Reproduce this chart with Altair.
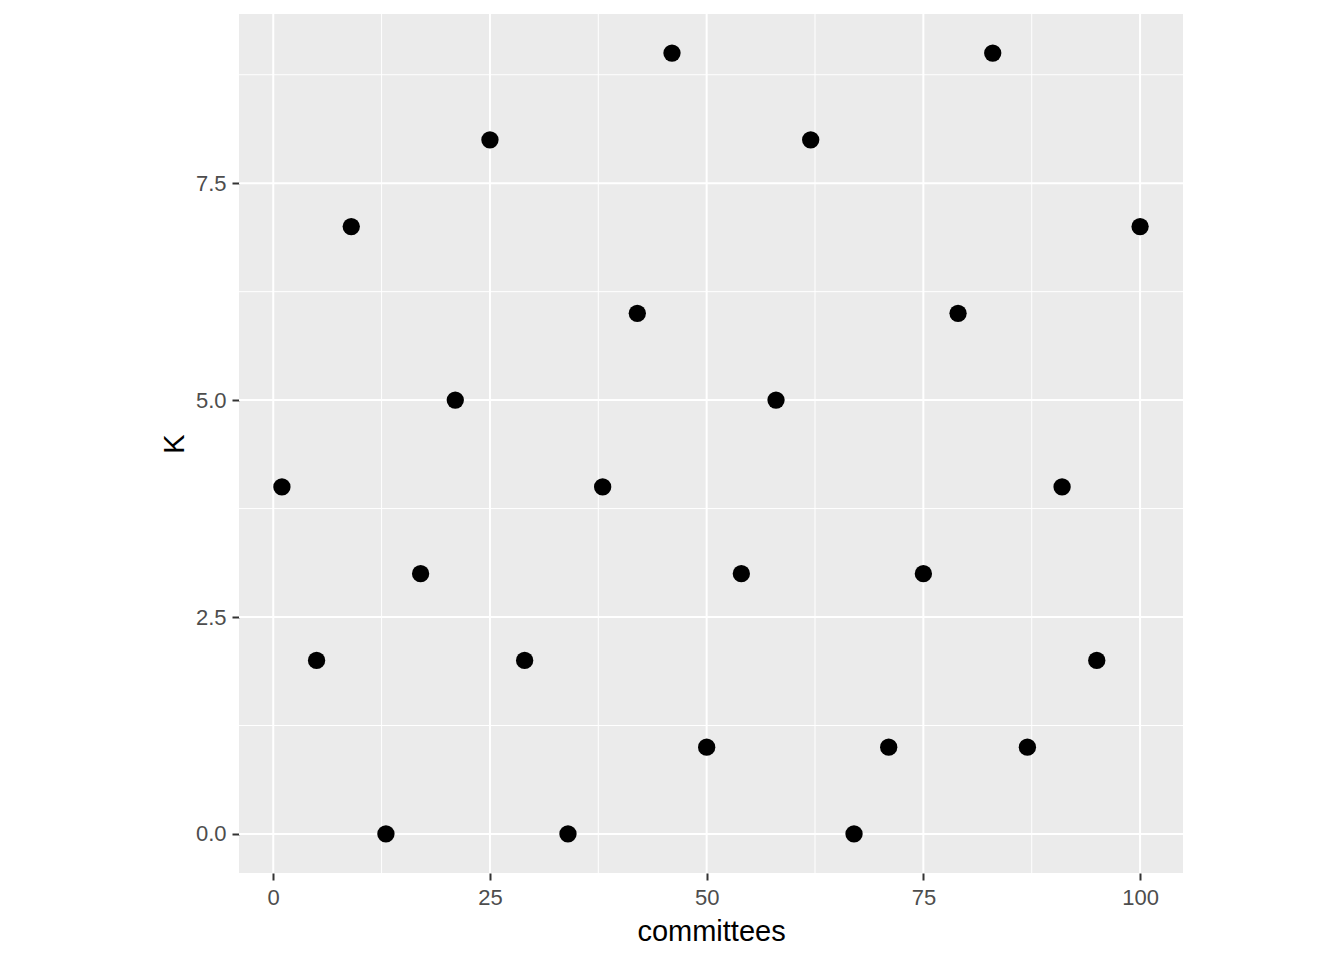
import altair as alt
import pandas as pd

committees = [1, 5, 9, 13, 17, 21, 25, 29, 34, 38, 42, 46, 50, 54, 58, 62, 67, 71, 75, 79, 83, 87, 91, 95, 100]
K = [4, 2, 7, 0, 3, 5, 8, 2, 0, 4, 6, 9, 1, 3, 5, 8, 0, 1, 3, 6, 9, 1, 4, 2, 7]

x_major = [0, 25, 50, 75, 100]
x_minor = [12.5, 37.5, 62.5, 87.5]
y_major = [0, 2.5, 5, 7.5]
y_minor = [1.25, 3.75, 6.25, 8.75]

df = pd.DataFrame({"committees": committees, "K": K})

xs = alt.Scale(domain=[-3.95, 104.95], nice=False, zero=False)
ys = alt.Scale(domain=[-0.45, 9.45], nice=False, zero=False)

FONT = "Liberation Sans"

axis_common = dict(grid=False, domain=False, tickColor="#333333", tickWidth=2, tickSize=7,
                   labelColor="#4D4D4D", labelFontSize=22, labelFont=FONT,
                   titleFont=FONT, titleFontSize=29, titleColor="black", titleFontWeight="normal")
xaxis = alt.Axis(values=x_major, format="d", labelPadding=7, titlePadding=9, **axis_common)
yaxis = alt.Axis(values=y_major, format=".1f", labelPadding=6, titlePadding=6, **axis_common)


def vrules(vals, w):
    return alt.Chart(pd.DataFrame({"committees": vals})).mark_rule(color="white", strokeWidth=w).encode(
        x=alt.X("committees:Q", scale=xs, title="committees", axis=xaxis))


def hrules(vals, w):
    return alt.Chart(pd.DataFrame({"K": vals})).mark_rule(color="white", strokeWidth=w).encode(
        y=alt.Y("K:Q", scale=ys, title="K", axis=yaxis))


points = alt.Chart(df).mark_circle(color="black", size=300, opacity=1).encode(
    x=alt.X("committees:Q", scale=xs, title="committees", axis=xaxis),
    y=alt.Y("K:Q", scale=ys, title="K", axis=yaxis),
)

chart = alt.layer(
    vrules(x_minor, 1), hrules(y_minor, 1), vrules(x_major, 2), hrules(y_major, 2), points
).properties(
    width=944, height=859,
    autosize=alt.AutoSizeParams(type="none"),
    padding={"left": 231, "top": 6, "right": 153, "bottom": 78},
).configure(
    background="white",
    view=alt.ViewConfig(fill="#EBEBEB", stroke=None),
)

chart.save("out.html", embed_options={"renderer": "svg", "actions": False})
